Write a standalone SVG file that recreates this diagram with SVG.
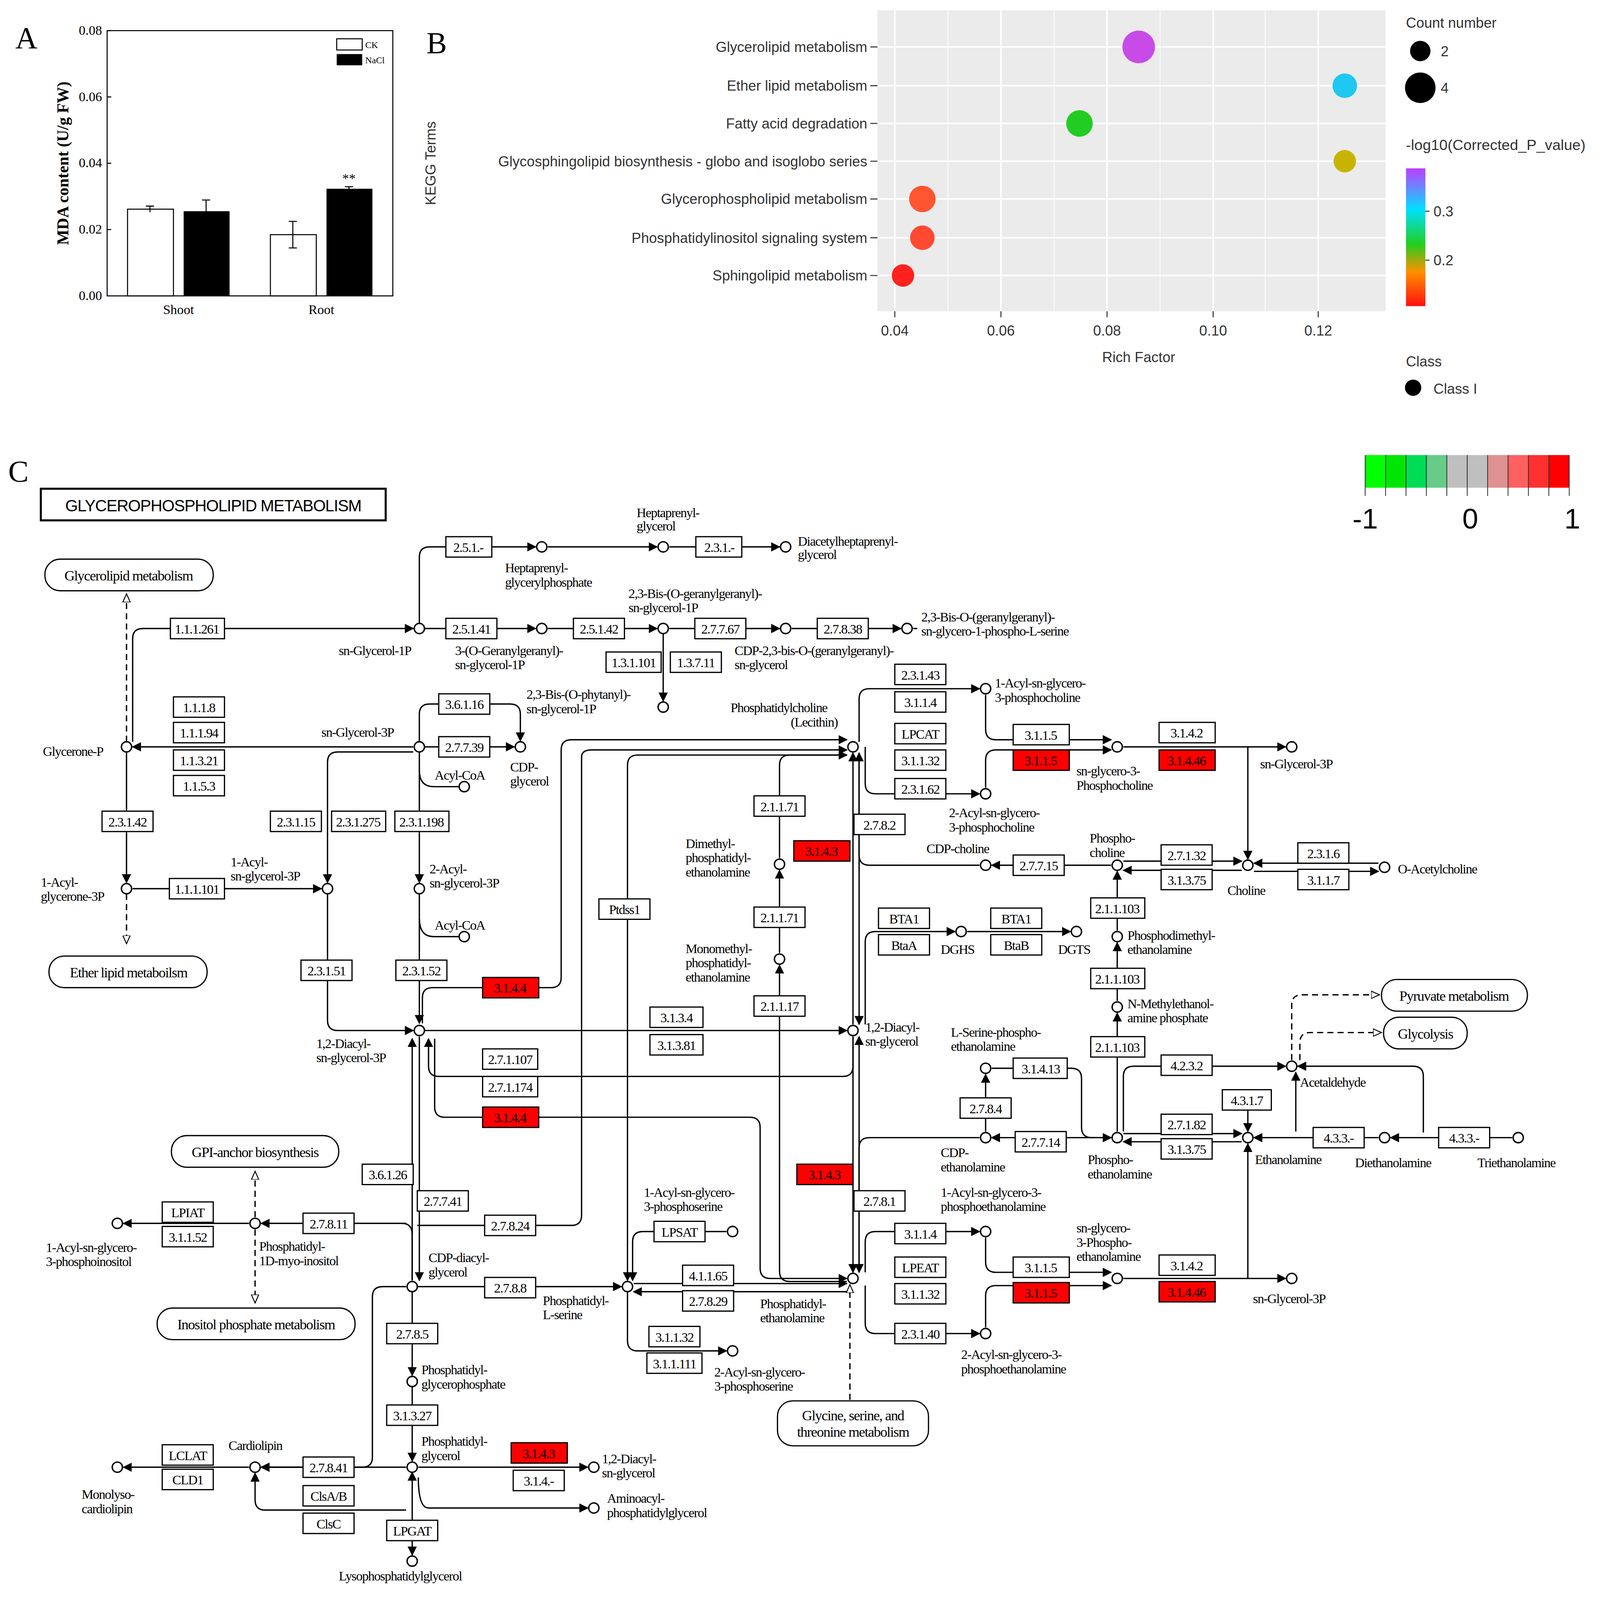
<svg xmlns="http://www.w3.org/2000/svg" width="4279" height="4282" viewBox="0 0 4279 4282">
<defs>
<marker id="ar" viewBox="0 0 10 10" refX="9" refY="5" markerWidth="7" markerHeight="7" orient="auto-start-reverse"><path d="M0,0 L10,5 L0,10 z" fill="#000"/></marker>
<marker id="ao" viewBox="0 0 10 10" refX="9" refY="5" markerWidth="7" markerHeight="7" orient="auto"><path d="M0,1 L9,5 L0,9 z" fill="#fff" stroke="#000"/></marker>
<linearGradient id="cg" x1="0" y1="0" x2="0" y2="1"><stop offset="0" stop-color="#c03cff"/><stop offset="0.3" stop-color="#00e0ff"/><stop offset="0.55" stop-color="#20d020"/><stop offset="0.75" stop-color="#ff9000"/><stop offset="1" stop-color="#ff1010"/></linearGradient>
<style>
.e rect{fill:#fff;stroke:#000;stroke-width:1.2}
.e.r rect{fill:#f00}
.e text{font-family:"Liberation Serif",serif;font-size:13px;text-anchor:middle;letter-spacing:-0.6px}
.t{font-family:"Liberation Serif",serif;font-size:13px;letter-spacing:-0.6px}
.m rect{fill:#fff;stroke:#000;stroke-width:1.2}
.m text{font-family:"Liberation Serif",serif;font-size:14px;text-anchor:middle;letter-spacing:-0.6px}
.c{fill:#fff;stroke:#000;stroke-width:1.4}
#conn path{fill:none;stroke:#000;stroke-width:1.3}
#conn .d{stroke-dasharray:6,4}
.s{font-family:"Liberation Sans",Arial,sans-serif;font-size:14px;fill:#333}
.ax{font-family:"Liberation Serif",serif;font-size:13px}
.big{font-family:"Liberation Serif",serif;font-size:30px}
</style>
</defs>
<rect width="4279" height="4282" fill="#fff"/>
<g transform="scale(2.612)">
<g id="panelA">
<text class="big" x="15" y="47">A</text>
<rect x="105" y="30" width="280" height="260" fill="none" stroke="#000"/>
<g class="ax" text-anchor="end"><text x="100" y="34">0.08</text><text x="100" y="99">0.06</text><text x="100" y="164">0.04</text><text x="100" y="229">0.02</text><text x="100" y="294">0.00</text></g>
<path d="M105,30h4M105,95h4M105,160h4M105,225h4" stroke="#000"/>
<text transform="translate(67,160) rotate(-90)" text-anchor="middle" font-family="Liberation Serif" font-weight="bold" font-size="16">MDA content (U/g FW)</text>
<rect x="125" y="205" width="45" height="85" fill="#fff" stroke="#000"/>
<rect x="180" y="207" width="45" height="83" fill="#000"/>
<rect x="265" y="230" width="45" height="60" fill="#fff" stroke="#000"/>
<rect x="320" y="185" width="45" height="105" fill="#000"/>
<path d="M147,202v6M143,202h8M202,196v11M198,196h8M287,217v26M283,217h8M283,243h8M342,183v3M338,183h8" stroke="#000"/>
<text class="ax" x="342" y="179" text-anchor="middle">**</text>
<text class="ax" x="175" y="308" text-anchor="middle">Shoot</text><text class="ax" x="315" y="308" text-anchor="middle">Root</text>
<rect x="330" y="38" width="25" height="11" fill="#fff" stroke="#000"/><text x="358" y="47" font-family="Liberation Serif" font-size="9">CK</text>
<rect x="330" y="53" width="25" height="11" fill="#000"/><text x="358" y="62" font-family="Liberation Serif" font-size="9">NaCl</text>
</g>
<g id="panelB">
<text class="big" x="418" y="52">B</text>
<rect x="860" y="10" width="498" height="295" fill="#ebebeb"/>
<g stroke="#fff" stroke-width="1.5"><path d="M877,10v295M981,10v295M1085,10v295M1189,10v295M1292,10v295M860,46h498M860,84h498M860,121h498M860,158h498M860,195h498M860,233h498M860,270h498"/></g>
<g stroke="#fff" stroke-width="0.7"><path d="M929,10v295M1033,10v295M1137,10v295M1240,10v295"/></g>
<g class="s" text-anchor="end"><text x="850" y="51">Glycerolipid metabolism</text><text x="850" y="89">Ether lipid metabolism</text><text x="850" y="126">Fatty acid degradation</text><text x="850" y="163">Glycosphingolipid biosynthesis - globo and isoglobo series</text><text x="850" y="200">Glycerophospholipid metabolism</text><text x="850" y="238">Phosphatidylinositol signaling system</text><text x="850" y="275">Sphingolipid metabolism</text></g>
<path d="M853,46h7M853,84h7M853,121h7M853,158h7M853,195h7M853,233h7M853,270h7M877,305v6M981,305v6M1085,305v6M1189,305v6M1292,305v6" stroke="#333"/>
<g class="s" text-anchor="middle"><text x="877" y="329">0.04</text><text x="981" y="329">0.06</text><text x="1085" y="329">0.08</text><text x="1189" y="329">0.10</text><text x="1292" y="329">0.12</text><text x="1116" y="355">Rich Factor</text></g>
<text class="s" transform="translate(427,160) rotate(-90)" text-anchor="middle">KEGG Terms</text>
<circle cx="1116" cy="46" r="16" fill="#c84be8"/><circle cx="1318" cy="84" r="12" fill="#1ec8f0"/><circle cx="1058" cy="121" r="13" fill="#22cc22"/><circle cx="1318" cy="158" r="11" fill="#c8b400"/><circle cx="904" cy="195" r="13" fill="#ff5530"/><circle cx="904" cy="233" r="12" fill="#ff4a30"/><circle cx="885" cy="270" r="11" fill="#ff2020"/>
<text class="s" x="1378" y="27">Count number</text>
<circle cx="1392" cy="50" r="10"/><text class="s" x="1412" y="55">2</text>
<circle cx="1392" cy="86" r="15"/><text class="s" x="1412" y="91">4</text>
<text class="s" x="1378" y="147" font-size="13" textLength="176" lengthAdjust="spacingAndGlyphs">-log10(Corrected_P_value)</text>
<rect x="1378" y="165" width="19" height="135" fill="url(#cg)"/>
<path d="M1397,207h4M1397,255h4" stroke="#333"/>
<text class="s" x="1405" y="212">0.3</text><text class="s" x="1405" y="260">0.2</text>
<text class="s" x="1378" y="359">Class</text>
<circle cx="1385" cy="380" r="8"/><text class="s" x="1405" y="386">Class I</text>
</g>
<text class="big" x="8" y="472">C</text>
<g id="title"><rect x="40" y="479" width="338" height="31" fill="#fff" stroke="#000" stroke-width="2"/><text x="209" y="501" text-anchor="middle" font-family="Liberation Sans" font-size="16" letter-spacing="-0.5">GLYCEROPHOSPHOLIPID METABOLISM</text></g>
<g id="scale">
<rect x="1338" y="446" width="20" height="32" fill="#00ff00"/><rect x="1358" y="446" width="20" height="32" fill="#00e600"/><rect x="1378" y="446" width="20" height="32" fill="#00dd55"/><rect x="1398" y="446" width="20" height="32" fill="#66cc88"/><rect x="1418" y="446" width="20" height="32" fill="#bfbfbf"/><rect x="1438" y="446" width="20" height="32" fill="#bfbfbf"/><rect x="1458" y="446" width="20" height="32" fill="#e09090"/><rect x="1478" y="446" width="20" height="32" fill="#ff6060"/><rect x="1498" y="446" width="20" height="32" fill="#ff3030"/><rect x="1518" y="446" width="20" height="32" fill="#ff0000"/>
<path d="M1338,446v40M1358,446v40M1378,446v40M1398,446v40M1418,446v40M1438,446v40M1458,446v40M1478,446v40M1498,446v40M1518,446v40M1538,446v40" stroke="#333" stroke-width="0.8"/>
<g font-family="Liberation Sans" font-size="28" text-anchor="middle"><text x="1338" y="518">-1</text><text x="1441" y="518">0</text><text x="1541" y="518">1</text></g>
</g>
<g id="conn">
<path d="M411,611V546Q411,536 421,536H525" marker-end="url(#ar)"/>
<path d="M537,536H644" marker-end="url(#ar)"/><path d="M656,536H764" marker-end="url(#ar)"/>
<path d="M130,727V626Q130,616 140,616H405" marker-end="url(#ar)"/>
<path d="M416,616H525" marker-end="url(#ar)"/><path d="M537,616H644" marker-end="url(#ar)"/><path d="M656,616H764" marker-end="url(#ar)"/><path d="M776,616H883" marker-end="url(#ar)"/><path d="M895,616H899"/>
<path d="M650,621V687" marker-end="url(#ar)"/>
<path d="M405,732H130" marker-end="url(#ar)"/><path d="M416,732H504" marker-end="url(#ar)"/>
<path d="M411,727V700Q411,690 421,690H500Q510,690 510,700V726" marker-end="url(#ar)"/>
<path d="M124,737V865" marker-end="url(#ar)"/>
<path class="d" d="M124,876V925" marker-end="url(#ao)"/><path class="d" d="M124,727V582" marker-end="url(#ao)"/>
<path d="M130,871H315" marker-end="url(#ar)"/>
<path d="M321,876V1000Q321,1010 331,1010H405" marker-end="url(#ar)"/>
<path d="M405,737H331Q321,737 321,747V865" marker-end="url(#ar)"/>
<path d="M411,737V865" marker-end="url(#ar)"/><path d="M411,876V1003" marker-end="url(#ar)"/>
<path d="M411,755Q411,771 425,771H450"/><path d="M411,900Q411,918 425,918H450"/>
<path d="M416,1010H830" marker-end="url(#ar)"/>
<path d="M414,1003V978Q414,968 424,968H540Q550,968 550,958V735Q550,725 560,725H830" marker-end="url(#ar)"/>
<path d="M836,1016V1045Q836,1055 826,1055H430Q420,1055 420,1045V1018" marker-end="url(#ar)"/>
<path d="M426,1018V1085Q426,1095 436,1095H735Q745,1095 745,1105V1243Q745,1253 755,1253H830" marker-end="url(#ar)"/>
<path d="M404,1255V1018" marker-end="url(#ar)"/><path d="M411,1016V1255" marker-end="url(#ar)"/>
<path d="M409,1201H560Q570,1201 570,1191V742Q570,735 580,735H830" marker-end="url(#ar)"/>
<path d="M398,1261H375Q365,1261 365,1271V1428Q365,1438 355,1438H256" marker-end="url(#ar)"/>
<path d="M398,1438H256" marker-end="url(#ar)"/>
<path d="M409,1261H609" marker-end="url(#ar)"/>
<path d="M404,1266V1348" marker-end="url(#ar)"/><path d="M404,1359V1432" marker-end="url(#ar)"/>
<path d="M410,1438H576" marker-end="url(#ar)"/><path d="M410,1448Q410,1478 420,1478H576" marker-end="url(#ar)"/>
<path d="M404,1443V1524" marker-start="url(#ar)" marker-end="url(#ar)"/>
<path d="M244,1438H121" marker-end="url(#ar)"/>
<path d="M398,1480H260Q250,1480 250,1470V1444" marker-end="url(#ar)"/>
<path d="M398,1199H256" marker-end="url(#ar)"/><path d="M404,1255V1210Q404,1199 394,1199"/>
<path d="M244,1199H121" marker-end="url(#ar)"/>
<path class="d" d="M250,1193V1148" marker-end="url(#ao)"/><path class="d" d="M250,1205V1277" marker-end="url(#ao)"/>
<path d="M621,1258H830" marker-end="url(#ar)"/><path d="M830,1266H621" marker-end="url(#ar)"/>
<path d="M830,740H625Q615,740 615,750V1255" marker-end="url(#ar)"/>
<path d="M615,1266V1314Q615,1324 625,1324H712" marker-end="url(#ar)"/>
<path d="M712,1207H630Q620,1207 620,1217V1255" marker-end="url(#ar)"/>
<path d="M836,1004V738" marker-end="url(#ar)"/><path d="M842,738V1004" marker-end="url(#ar)"/>
<path d="M836,1016V1247" marker-end="url(#ar)"/><path d="M842,1247V1016" marker-end="url(#ar)"/>
<path d="M830,1256H774Q764,1256 764,1246V946" marker-end="url(#ar)"/><path d="M764,934V853" marker-end="url(#ar)"/>
<path d="M764,841V750Q764,740 774,740H830" marker-end="url(#ar)"/>
<path d="M960,848H852Q842,848 842,838V738" marker-end="url(#ar)"/>
<path d="M960,1115H852Q842,1115 842,1125V1247" marker-end="url(#ar)"/>
<path d="M842,727V685Q842,675 852,675H960" marker-end="url(#ar)"/>
<path d="M966,681V715Q966,725 976,725H1089" marker-end="url(#ar)"/>
<path d="M848,732V768Q848,778 858,778H960" marker-end="url(#ar)"/>
<path d="M966,772V745Q966,735 976,735H1089" marker-end="url(#ar)"/>
<path d="M1101,732H1260" marker-end="url(#ar)"/><path d="M1223,732V842" marker-end="url(#ar)"/>
<path d="M1089,848H972" marker-end="url(#ar)"/>
<path d="M1101,844H1217" marker-end="url(#ar)"/><path d="M1217,853H1101" marker-end="url(#ar)"/>
<path d="M1351,846H1229" marker-end="url(#ar)"/><path d="M1229,854H1351" marker-end="url(#ar)"/>
<path d="M1095,912V854" marker-end="url(#ar)"/><path d="M1095,981V924" marker-end="url(#ar)"/><path d="M1095,1109V993" marker-end="url(#ar)"/>
<path d="M848,1004V923Q848,913 858,913H936" marker-end="url(#ar)"/><path d="M948,913H1049" marker-end="url(#ar)"/>
<path d="M848,1247V1217Q848,1207 858,1207H960" marker-end="url(#ar)"/>
<path d="M966,1213V1237Q966,1247 976,1247H1089" marker-end="url(#ar)"/>
<path d="M848,1260V1297Q848,1307 858,1307H960" marker-end="url(#ar)"/>
<path d="M966,1301V1270Q966,1260 976,1260H1089" marker-end="url(#ar)"/>
<path d="M1101,1253H1260" marker-end="url(#ar)"/><path d="M1223,1253V1121" marker-end="url(#ar)"/>
<path d="M1101,1111H1217" marker-end="url(#ar)"/><path d="M1217,1119H1101" marker-end="url(#ar)"/>
<path d="M1089,1115H972" marker-end="url(#ar)"/><path d="M966,1109V1053" marker-end="url(#ar)"/>
<path d="M972,1047H1050Q1060,1047 1060,1057V1105Q1060,1115 1070,1115H1089" marker-end="url(#ar)"/>
<path d="M1351,1115H1229" marker-end="url(#ar)"/><path d="M1482,1115H1363" marker-end="url(#ar)"/>
<path d="M1223,1088V1109" marker-end="url(#ar)"/>
<path d="M1101,1109V1055Q1101,1045 1111,1045H1260" marker-end="url(#ar)"/>
<path d="M1270,1109V1051" marker-end="url(#ar)"/>
<path d="M1395,1110V1055Q1395,1045 1385,1045H1272" marker-end="url(#ar)"/>
<path class="d" d="M1266,1039V985Q1266,975 1276,975H1352" marker-end="url(#ao)"/>
<path class="d" d="M1274,1039V1022Q1274,1012 1284,1012H1354" marker-end="url(#ao)"/>
<path class="d" d="M833,1372V1259" marker-end="url(#ao)"/>
</g>
<g id="enzymes">
<g class="e" id="e1"><rect x="437" y="526" width="45" height="20"/><text x="459" y="541">2.5.1.-</text></g>
<g class="e" id="e2"><rect x="682" y="526" width="45" height="20"/><text x="705" y="541">2.3.1.-</text></g>
<g class="e" id="e3"><rect x="167" y="606" width="53" height="20"/><text x="193" y="621">1.1.1.261</text></g>
<g class="e" id="e4"><rect x="437" y="606" width="50" height="20"/><text x="462" y="621">2.5.1.41</text></g>
<g class="e" id="e5"><rect x="562" y="606" width="50" height="20"/><text x="587" y="621">2.5.1.42</text></g>
<g class="e" id="e6"><rect x="681" y="606" width="50" height="20"/><text x="706" y="621">2.7.7.67</text></g>
<g class="e" id="e7"><rect x="801" y="606" width="50" height="20"/><text x="826" y="621">2.7.8.38</text></g>
<g class="e" id="e8"><rect x="594" y="639" width="54" height="20"/><text x="621" y="654">1.3.1.101</text></g>
<g class="e" id="e9"><rect x="657" y="639" width="50" height="20"/><text x="682" y="654">1.3.7.11</text></g>
<g class="e" id="e10"><rect x="170" y="683" width="50" height="20"/><text x="195" y="698">1.1.1.8</text></g>
<g class="e" id="e11"><rect x="170" y="708" width="50" height="20"/><text x="195" y="723">1.1.1.94</text></g>
<g class="e" id="e12"><rect x="170" y="735" width="50" height="20"/><text x="195" y="750">1.1.3.21</text></g>
<g class="e" id="e13"><rect x="170" y="760" width="50" height="20"/><text x="195" y="775">1.1.5.3</text></g>
<g class="e" id="e14"><rect x="430" y="680" width="50" height="20"/><text x="455" y="695">3.6.1.16</text></g>
<g class="e" id="e15"><rect x="430" y="722" width="50" height="20"/><text x="455" y="737">2.7.7.39</text></g>
<g class="e" id="e16"><rect x="100" y="795" width="50" height="20"/><text x="125" y="810">2.3.1.42</text></g>
<g class="e" id="e17"><rect x="265" y="795" width="50" height="20"/><text x="290" y="810">2.3.1.15</text></g>
<g class="e" id="e18"><rect x="325" y="795" width="53" height="20"/><text x="351" y="810">2.3.1.275</text></g>
<g class="e" id="e19"><rect x="387" y="795" width="53" height="20"/><text x="413" y="810">2.3.1.198</text></g>
<g class="e" id="e20"><rect x="166" y="861" width="54" height="20"/><text x="193" y="876">1.1.1.101</text></g>
<g class="e" id="e21"><rect x="295" y="941" width="50" height="20"/><text x="320" y="956">2.3.1.51</text></g>
<g class="e" id="e22"><rect x="388" y="941" width="50" height="20"/><text x="413" y="956">2.3.1.52</text></g>
<g class="e r" id="e23"><rect x="473" y="958" width="55" height="20"/><text x="500" y="973">3.1.4.4</text></g>
<g class="e" id="e24"><rect x="637" y="987" width="52" height="20"/><text x="663" y="1002">3.1.3.4</text></g>
<g class="e" id="e25"><rect x="637" y="1014" width="52" height="20"/><text x="663" y="1029">3.1.3.81</text></g>
<g class="e" id="e26"><rect x="473" y="1028" width="54" height="20"/><text x="500" y="1043">2.7.1.107</text></g>
<g class="e" id="e27"><rect x="473" y="1055" width="54" height="20"/><text x="500" y="1070">2.7.1.174</text></g>
<g class="e r" id="e28"><rect x="473" y="1085" width="55" height="20"/><text x="500" y="1100">3.1.4.4</text></g>
<g class="e" id="e29"><rect x="355" y="1141" width="50" height="20"/><text x="380" y="1156">3.6.1.26</text></g>
<g class="e" id="e30"><rect x="409" y="1167" width="50" height="20"/><text x="434" y="1182">2.7.7.41</text></g>
<g class="e" id="e31"><rect x="475" y="1191" width="50" height="20"/><text x="500" y="1206">2.7.8.24</text></g>
<g class="e" id="e32"><rect x="297" y="1189" width="50" height="20"/><text x="322" y="1204">2.7.8.11</text></g>
<g class="e" id="e33"><rect x="159" y="1178" width="50" height="20"/><text x="184" y="1193">LPIAT</text></g>
<g class="e" id="e34"><rect x="159" y="1202" width="50" height="20"/><text x="184" y="1217">3.1.1.52</text></g>
<g class="e" id="e35"><rect x="475" y="1252" width="50" height="20"/><text x="500" y="1267">2.7.8.8</text></g>
<g class="e" id="e36"><rect x="379" y="1297" width="50" height="20"/><text x="404" y="1312">2.7.8.5</text></g>
<g class="e" id="e37"><rect x="379" y="1377" width="50" height="20"/><text x="404" y="1392">3.1.3.27</text></g>
<g class="e r" id="e38"><rect x="501" y="1414" width="55" height="20"/><text x="528" y="1429">3.1.4.3</text></g>
<g class="e" id="e39"><rect x="503" y="1441" width="50" height="20"/><text x="528" y="1456">3.1.4.-</text></g>
<g class="e" id="e40"><rect x="297" y="1428" width="50" height="20"/><text x="322" y="1443">2.7.8.41</text></g>
<g class="e" id="e41"><rect x="159" y="1416" width="50" height="20"/><text x="184" y="1431">LCLAT</text></g>
<g class="e" id="e42"><rect x="159" y="1440" width="50" height="20"/><text x="184" y="1455">CLD1</text></g>
<g class="e" id="e43"><rect x="297" y="1456" width="50" height="20"/><text x="322" y="1471">ClsA/B</text></g>
<g class="e" id="e44"><rect x="297" y="1483" width="50" height="20"/><text x="322" y="1498">ClsC</text></g>
<g class="e" id="e45"><rect x="379" y="1490" width="50" height="20"/><text x="404" y="1505">LPGAT</text></g>
<g class="e" id="e46"><rect x="587" y="881" width="50" height="20"/><text x="612" y="896">Ptdss1</text></g>
<g class="e" id="e47"><rect x="641" y="1197" width="50" height="20"/><text x="666" y="1212">LPSAT</text></g>
<g class="e" id="e48"><rect x="669" y="1240" width="50" height="20"/><text x="694" y="1255">4.1.1.65</text></g>
<g class="e" id="e49"><rect x="669" y="1265" width="50" height="20"/><text x="694" y="1280">2.7.8.29</text></g>
<g class="e" id="e50"><rect x="636" y="1300" width="50" height="20"/><text x="661" y="1315">3.1.1.32</text></g>
<g class="e" id="e51"><rect x="634" y="1326" width="54" height="20"/><text x="661" y="1341">3.1.1.111</text></g>
<g class="e" id="e52"><rect x="739" y="780" width="50" height="20"/><text x="764" y="795">2.1.1.71</text></g>
<g class="e" id="e53"><rect x="739" y="889" width="50" height="20"/><text x="764" y="904">2.1.1.71</text></g>
<g class="e" id="e54"><rect x="739" y="976" width="50" height="20"/><text x="764" y="991">2.1.1.17</text></g>
<g class="e r" id="e55"><rect x="778" y="824" width="55" height="20"/><text x="805" y="839">3.1.4.3</text></g>
<g class="e" id="e56"><rect x="837" y="798" width="50" height="20"/><text x="862" y="813">2.7.8.2</text></g>
<g class="e r" id="e57"><rect x="781" y="1141" width="55" height="20"/><text x="808" y="1156">3.1.4.3</text></g>
<g class="e" id="e58"><rect x="837" y="1167" width="50" height="20"/><text x="862" y="1182">2.7.8.1</text></g>
<g class="e" id="e59"><rect x="877" y="651" width="50" height="20"/><text x="902" y="666">2.3.1.43</text></g>
<g class="e" id="e60"><rect x="877" y="678" width="50" height="20"/><text x="902" y="693">3.1.1.4</text></g>
<g class="e" id="e61"><rect x="877" y="709" width="50" height="20"/><text x="902" y="724">LPCAT</text></g>
<g class="e" id="e62"><rect x="877" y="735" width="50" height="20"/><text x="902" y="750">3.1.1.32</text></g>
<g class="e" id="e63"><rect x="877" y="763" width="50" height="20"/><text x="902" y="778">2.3.1.62</text></g>
<g class="e" id="e64"><rect x="993" y="710" width="55" height="20"/><text x="1020" y="725">3.1.1.5</text></g>
<g class="e r" id="e65"><rect x="993" y="735" width="55" height="20"/><text x="1020" y="750">3.1.1.5</text></g>
<g class="e" id="e66"><rect x="1136" y="708" width="55" height="20"/><text x="1163" y="723">3.1.4.2</text></g>
<g class="e r" id="e67"><rect x="1136" y="735" width="55" height="20"/><text x="1163" y="750">3.1.4.46</text></g>
<g class="e" id="e68"><rect x="1138" y="828" width="50" height="20"/><text x="1163" y="843">2.7.1.32</text></g>
<g class="e" id="e69"><rect x="1138" y="852" width="50" height="20"/><text x="1163" y="867">3.1.3.75</text></g>
<g class="e" id="e70"><rect x="1272" y="826" width="50" height="20"/><text x="1297" y="841">2.3.1.6</text></g>
<g class="e" id="e71"><rect x="1272" y="852" width="50" height="20"/><text x="1297" y="867">3.1.1.7</text></g>
<g class="e" id="e72"><rect x="993" y="838" width="50" height="20"/><text x="1018" y="853">2.7.7.15</text></g>
<g class="e" id="e73"><rect x="1069" y="880" width="53" height="20"/><text x="1095" y="895">2.1.1.103</text></g>
<g class="e" id="e74"><rect x="1069" y="949" width="53" height="20"/><text x="1095" y="964">2.1.1.103</text></g>
<g class="e" id="e75"><rect x="1069" y="1016" width="53" height="20"/><text x="1095" y="1031">2.1.1.103</text></g>
<g class="e" id="e76"><rect x="861" y="890" width="50" height="20"/><text x="886" y="905">BTA1</text></g>
<g class="e" id="e77"><rect x="861" y="916" width="50" height="20"/><text x="886" y="931">BtaA</text></g>
<g class="e" id="e78"><rect x="971" y="890" width="50" height="20"/><text x="996" y="905">BTA1</text></g>
<g class="e" id="e79"><rect x="971" y="916" width="50" height="20"/><text x="996" y="931">BtaB</text></g>
<g class="e" id="e80"><rect x="993" y="1037" width="53" height="20"/><text x="1020" y="1052">3.1.4.13</text></g>
<g class="e" id="e81"><rect x="941" y="1076" width="50" height="20"/><text x="966" y="1091">2.7.8.4</text></g>
<g class="e" id="e82"><rect x="995" y="1109" width="50" height="20"/><text x="1020" y="1124">2.7.7.14</text></g>
<g class="e" id="e83"><rect x="1138" y="1034" width="50" height="20"/><text x="1163" y="1049">4.2.3.2</text></g>
<g class="e" id="e84"><rect x="1198" y="1068" width="48" height="20"/><text x="1222" y="1083">4.3.1.7</text></g>
<g class="e" id="e85"><rect x="1138" y="1092" width="50" height="20"/><text x="1163" y="1107">2.7.1.82</text></g>
<g class="e" id="e86"><rect x="1138" y="1116" width="50" height="20"/><text x="1163" y="1131">3.1.3.75</text></g>
<g class="e" id="e87"><rect x="1287" y="1105" width="50" height="20"/><text x="1312" y="1120">4.3.3.-</text></g>
<g class="e" id="e88"><rect x="1410" y="1105" width="50" height="20"/><text x="1435" y="1120">4.3.3.-</text></g>
<g class="e" id="e89"><rect x="877" y="1199" width="50" height="20"/><text x="902" y="1214">3.1.1.4</text></g>
<g class="e" id="e90"><rect x="877" y="1232" width="50" height="20"/><text x="902" y="1247">LPEAT</text></g>
<g class="e" id="e91"><rect x="877" y="1258" width="50" height="20"/><text x="902" y="1273">3.1.1.32</text></g>
<g class="e" id="e92"><rect x="877" y="1297" width="50" height="20"/><text x="902" y="1312">2.3.1.40</text></g>
<g class="e" id="e93"><rect x="993" y="1232" width="55" height="20"/><text x="1020" y="1247">3.1.1.5</text></g>
<g class="e r" id="e94"><rect x="993" y="1257" width="55" height="20"/><text x="1020" y="1272">3.1.1.5</text></g>
<g class="e" id="e95"><rect x="1136" y="1230" width="55" height="20"/><text x="1163" y="1245">3.1.4.2</text></g>
<g class="e r" id="e96"><rect x="1136" y="1256" width="55" height="20"/><text x="1163" y="1271">3.1.4.46</text></g>
</g>
<g id="maps">
<g class="m" id="m1"><rect x="44" y="548" width="165" height="31" rx="15"/><text x="126" y="569">Glycerolipid metabolism</text></g>
<g class="m" id="m2"><rect x="48" y="937" width="155" height="31" rx="15"/><text x="126" y="958">Ether lipid metaboilsm</text></g>
<g class="m" id="m3"><rect x="168" y="1113" width="164" height="31" rx="15"/><text x="250" y="1134">GPI-anchor biosynthesis</text></g>
<g class="m" id="m4"><rect x="154" y="1282" width="194" height="31" rx="15"/><text x="251" y="1303">Inositol phosphate metabolism</text></g>
<g class="m" id="m5"><rect x="762" y="1373" width="148" height="44" rx="15"/><text x="836" y="1392">Glycine, serine, and</text><text x="836" y="1408">threonine metabolism</text></g>
<g class="m" id="m6"><rect x="1354" y="960" width="143" height="31" rx="15"/><text x="1425" y="981">Pyruvate metabolism</text></g>
<g class="m" id="m7"><rect x="1356" y="997" width="82" height="31" rx="15"/><text x="1397" y="1018">Glycolysis</text></g>
</g>
<g id="compounds">
<circle class="c" cx="531" cy="536" r="5"/><circle class="c" cx="650" cy="536" r="5"/><circle class="c" cx="770" cy="536" r="5"/><circle class="c" cx="411" cy="616" r="5"/><circle class="c" cx="531" cy="616" r="5"/><circle class="c" cx="650" cy="616" r="5"/><circle class="c" cx="770" cy="616" r="5"/><circle class="c" cx="889" cy="616" r="5"/><circle class="c" cx="650" cy="693" r="5"/><circle class="c" cx="124" cy="732" r="5"/><circle class="c" cx="411" cy="732" r="5"/><circle class="c" cx="510" cy="732" r="5"/><circle class="c" cx="455" cy="771" r="5"/><circle class="c" cx="124" cy="871" r="5"/><circle class="c" cx="321" cy="871" r="5"/><circle class="c" cx="411" cy="871" r="5"/><circle class="c" cx="455" cy="918" r="5"/><circle class="c" cx="411" cy="1010" r="5"/><circle class="c" cx="836" cy="732" r="5"/><circle class="c" cx="836" cy="1010" r="5"/><circle class="c" cx="966" cy="675" r="5"/><circle class="c" cx="1095" cy="732" r="5"/><circle class="c" cx="1266" cy="732" r="5"/><circle class="c" cx="966" cy="778" r="5"/><circle class="c" cx="764" cy="847" r="5"/><circle class="c" cx="764" cy="940" r="5"/><circle class="c" cx="966" cy="848" r="5"/><circle class="c" cx="1095" cy="848" r="5"/><circle class="c" cx="1223" cy="848" r="5"/><circle class="c" cx="1357" cy="850" r="5"/><circle class="c" cx="942" cy="913" r="5"/><circle class="c" cx="1055" cy="913" r="5"/><circle class="c" cx="1095" cy="918" r="5"/><circle class="c" cx="1095" cy="987" r="5"/><circle class="c" cx="966" cy="1047" r="5"/><circle class="c" cx="966" cy="1115" r="5"/><circle class="c" cx="1095" cy="1115" r="5"/><circle class="c" cx="1223" cy="1115" r="5"/><circle class="c" cx="1266" cy="1045" r="5"/><circle class="c" cx="1357" cy="1115" r="5"/><circle class="c" cx="1488" cy="1115" r="5"/><circle class="c" cx="250" cy="1199" r="5"/><circle class="c" cx="115" cy="1199" r="5"/><circle class="c" cx="404" cy="1261" r="5"/><circle class="c" cx="615" cy="1261" r="5"/><circle class="c" cx="718" cy="1207" r="5"/><circle class="c" cx="718" cy="1324" r="5"/><circle class="c" cx="836" cy="1253" r="5"/><circle class="c" cx="966" cy="1207" r="5"/><circle class="c" cx="966" cy="1307" r="5"/><circle class="c" cx="1095" cy="1253" r="5"/><circle class="c" cx="1266" cy="1253" r="5"/><circle class="c" cx="404" cy="1354" r="5"/><circle class="c" cx="404" cy="1438" r="5"/><circle class="c" cx="250" cy="1438" r="5"/><circle class="c" cx="115" cy="1438" r="5"/><circle class="c" cx="582" cy="1438" r="5"/><circle class="c" cx="582" cy="1478" r="5"/><circle class="c" cx="404" cy="1530" r="5"/>
</g>
<g id="labels" class="t">
<text x="624" y="507">Heptaprenyl-</text><text x="624" y="520">glycerol</text>
<text x="495" y="561">Heptaprenyl-</text><text x="495" y="575">glycerylphosphate</text>
<text x="782" y="535">Diacetylheptaprenyl-</text><text x="782" y="548">glycerol</text>
<text x="616" y="586">2,3-Bis-(O-geranylgeranyl)-</text><text x="616" y="600">sn-glycerol-1P</text>
<text x="332" y="642">sn-Glycerol-1P</text>
<text x="446" y="642">3-(O-Geranylgeranyl)-</text><text x="446" y="656">sn-glycerol-1P</text>
<text x="720" y="642">CDP-2,3-bis-O-(geranylgeranyl)-</text><text x="720" y="656">sn-glycerol</text>
<text x="903" y="609">2,3-Bis-O-(geranylgeranyl)-</text><text x="903" y="623">sn-glycero-1-phospho-L-serine</text>
<text x="516" y="685">2,3-Bis-(O-phytanyl)-</text><text x="516" y="699">sn-glycerol-1P</text>
<text x="42" y="741">Glycerone-P</text>
<text x="315" y="722">sn-Glycerol-3P</text>
<text x="500" y="756">CDP-</text><text x="500" y="770">glycerol</text>
<text x="426" y="764">Acyl-CoA</text>
<text x="40" y="869">1-Acyl-</text><text x="40" y="883">glycerone-3P</text>
<text x="226" y="849">1-Acyl-</text><text x="226" y="863">sn-glycerol-3P</text>
<text x="421" y="856">2-Acyl-</text><text x="421" y="870">sn-glycerol-3P</text>
<text x="426" y="911">Acyl-CoA</text>
<text x="310" y="1027">1,2-Diacyl-</text><text x="310" y="1041">sn-glycerol-3P</text>
<text x="716" y="698">Phosphatidylcholine</text><text x="775" y="712">(Lecithin)</text>
<text x="975" y="674">1-Acyl-sn-glycero-</text><text x="975" y="688">3-phosphocholine</text>
<text x="1055" y="760">sn-glycero-3-</text><text x="1055" y="774">Phosphocholine</text>
<text x="1235" y="753">sn-Glycerol-3P</text>
<text x="930" y="801">2-Acyl-sn-glycero-</text><text x="930" y="815">3-phosphocholine</text>
<text x="672" y="831">Dimethyl-</text><text x="672" y="845">phosphatidyl-</text><text x="672" y="859">ethanolamine</text>
<text x="908" y="836">CDP-choline</text>
<text x="1068" y="826">Phospho-</text><text x="1068" y="840">choline</text>
<text x="1203" y="877">Choline</text>
<text x="1370" y="856">O-Acetylcholine</text>
<text x="922" y="935">DGHS</text><text x="1037" y="935">DGTS</text>
<text x="1105" y="921">Phosphodimethyl-</text><text x="1105" y="935">ethanolamine</text>
<text x="672" y="934">Monomethyl-</text><text x="672" y="948">phosphatidyl-</text><text x="672" y="962">ethanolamine</text>
<text x="1105" y="988">N-Methylethanol-</text><text x="1105" y="1002">amine phosphate</text>
<text x="848" y="1011">1,2-Diacyl-</text><text x="848" y="1025">sn-glycerol</text>
<text x="932" y="1016">L-Serine-phospho-</text><text x="932" y="1030">ethanolamine</text>
<text x="1274" y="1065">Acetaldehyde</text>
<text x="922" y="1134">CDP-</text><text x="922" y="1148">ethanolamine</text>
<text x="1066" y="1141">Phospho-</text><text x="1066" y="1155">ethanolamine</text>
<text x="1230" y="1141">Ethanolamine</text><text x="1328" y="1144">Diethanolamine</text><text x="1448" y="1144">Triethanolamine</text>
<text x="922" y="1173">1-Acyl-sn-glycero-3-</text><text x="922" y="1187">phosphoethanolamine</text>
<text x="1055" y="1208">sn-glycero-</text><text x="1055" y="1222">3-Phospho-</text><text x="1055" y="1236">ethanolamine</text>
<text x="1228" y="1277">sn-Glycerol-3P</text>
<text x="942" y="1332">2-Acyl-sn-glycero-3-</text><text x="942" y="1346">phosphoethanolamine</text>
<text x="631" y="1173">1-Acyl-sn-glycero-</text><text x="631" y="1187">3-phosphoserine</text>
<text x="745" y="1282">Phosphatidyl-</text><text x="745" y="1296">ethanolamine</text>
<text x="532" y="1279">Phosphatidyl-</text><text x="532" y="1293">L-serine</text>
<text x="700" y="1349">2-Acyl-sn-glycero-</text><text x="700" y="1363">3-phosphoserine</text>
<text x="420" y="1237">CDP-diacyl-</text><text x="420" y="1251">glycerol</text>
<text x="254" y="1226">Phosphatidyl-</text><text x="254" y="1240">1D-myo-inositol</text>
<text x="45" y="1227">1-Acyl-sn-glycero-</text><text x="45" y="1241">3-phosphoinositol</text>
<text x="413" y="1347">Phosphatidyl-</text><text x="413" y="1361">glycerophosphate</text>
<text x="224" y="1421">Cardiolipin</text>
<text x="413" y="1417">Phosphatidyl-</text><text x="413" y="1431">glycerol</text>
<text x="590" y="1434">1,2-Diacyl-</text><text x="590" y="1448">sn-glycerol</text>
<text x="595" y="1473">Aminoacyl-</text><text x="595" y="1487">phosphatidylglycerol</text>
<text x="80" y="1469">Monolyso-</text><text x="80" y="1483">cardiolipin</text>
<text x="332" y="1549">Lysophosphatidylglycerol</text>
</g>
</g>
</svg>
